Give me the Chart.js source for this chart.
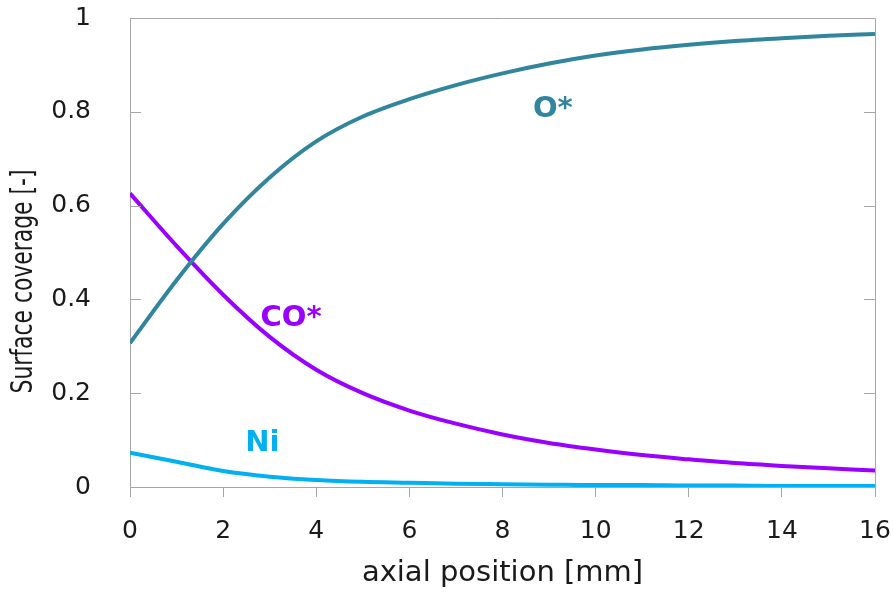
<!DOCTYPE html>
<html>
<head>
<meta charset="utf-8">
<script src="https://cdn.jsdelivr.net/npm/chart.js@4.4.1/dist/chart.umd.min.js"></script>
<style>
  html, body { margin: 0; padding: 0; background: #fff; }
  #wrap { width: 894px; height: 594px; }
</style>
</head>
<body>
<div id="wrap"><canvas id="chart" width="894" height="594"></canvas></div>
<script>
// axial positions [mm]
const positions = [0, 1, 2, 3, 4, 5, 6, 7, 8, 9, 10, 11, 12, 13, 14, 15, 16];
const oStar  = [0.307, 0.441, 0.561, 0.660, 0.737, 0.790, 0.827, 0.857, 0.882, 0.903, 0.920, 0.933, 0.943, 0.951, 0.957, 0.962, 0.966];
const coStar = [0.626, 0.514, 0.410, 0.320, 0.250, 0.200, 0.163, 0.135, 0.112, 0.094, 0.080, 0.068, 0.059, 0.051, 0.045, 0.040, 0.035];
const ni     = [0.073, 0.054, 0.034, 0.022, 0.015, 0.011, 0.009, 0.007, 0.006, 0.005, 0.004, 0.004, 0.003, 0.003, 0.002, 0.002, 0.002];

const xTicks = [0, 2, 4, 6, 8, 10, 12, 14, 16];
const yTicks = [0, 0.2, 0.4, 0.6, 0.8, 1];

// curve labels, placed in data coordinates
const labelNames = ['O*', 'CO*', 'Ni'];
const labelX = [9.08, 3.46, 2.84];
const labelY = [0.806, 0.360, 0.092];

const colors = ['#31859C', '#9900FF', '#00B0F0'];
const FONT = '"DejaVu Sans", sans-serif';
const AXIS = '#A6A6A6';
const TEXT = '#1a1a1a';
const Y_TITLE = 'Surface coverage [-]';

const toPoints = (ys) => positions.map((x, i) => ({ x, y: ys[i] }));

// frame, inward y ticks on both sides, curve labels, y title
const framePlugin = {
  id: 'frame',
  afterDatasetsDraw(chart) {
    const { ctx, chartArea: a, scales } = chart;
    ctx.save();
    ctx.strokeStyle = AXIS;
    ctx.lineWidth = 1;
    ctx.beginPath();
    ctx.moveTo(a.left, a.top + 0.5);
    ctx.lineTo(a.right + 0.5, a.top + 0.5);
    ctx.lineTo(a.right + 0.5, a.bottom);
    ctx.stroke();
    yTicks.forEach((v) => {
      const y = Math.round(scales.y.getPixelForValue(v)) + 0.5;
      ctx.beginPath();
      ctx.moveTo(a.left, y); ctx.lineTo(a.left + 11, y);
      ctx.moveTo(a.right, y); ctx.lineTo(a.right - 11, y);
      ctx.stroke();
    });
    ctx.font = 'bold 29px ' + FONT;
    ctx.textAlign = 'center';
    ctx.textBaseline = 'middle';
    labelNames.forEach((t, i) => {
      ctx.fillStyle = colors[i];
      ctx.fillText(t, scales.x.getPixelForValue(labelX[i]), scales.y.getPixelForValue(labelY[i]));
    });
    // y title, narrowed along its length like the original
    ctx.translate(24, (a.top + a.bottom) / 2 + 29);
    ctx.rotate(-Math.PI / 2);
    ctx.scale(0.73, 1);
    ctx.font = '30px ' + FONT;
    ctx.fillStyle = TEXT;
    ctx.fillText(Y_TITLE, 0, 0);
    ctx.restore();
  }
};

new Chart(document.getElementById('chart'), {
  type: 'line',
  data: {
    datasets: [
      { label: 'O*', data: toPoints(oStar), borderColor: colors[0] },
      { label: 'CO*', data: toPoints(coStar), borderColor: colors[1] },
      { label: 'Ni', data: toPoints(ni), borderColor: colors[2] },
    ].map((d) => ({ ...d, borderWidth: 4, pointRadius: 0, cubicInterpolationMode: 'monotone', fill: false })),
  },
  options: {
    responsive: false,
    animation: false,
    layout: { padding: { top: 18, right: 19, left: 0, bottom: 0 } },
    plugins: { legend: { display: false }, tooltip: { enabled: false } },
    scales: {
      x: {
        type: 'linear', min: 0, max: 16,
        afterBuildTicks: (s) => { s.ticks = xTicks.map((v) => ({ value: v })); },
        afterFit: (s) => { s.height = 107; s.paddingLeft = 0; s.paddingRight = 0; },
        grid: { drawOnChartArea: false, drawTicks: true, tickLength: 10, color: AXIS },
        border: { color: AXIS },
        ticks: { font: { family: FONT, size: 25 }, color: TEXT, padding: 19, maxRotation: 0 },
        title: { display: true, text: 'axial position [mm]', font: { family: FONT, size: 29, lineHeight: 1.4 }, color: TEXT, padding: 0 },
      },
      y: {
        min: 0, max: 1,
        afterBuildTicks: (s) => { s.ticks = yTicks.map((v) => ({ value: v })); },
        afterFit: (s) => { s.width = 130; s.paddingTop = 0; s.paddingBottom = 0; },
        grid: { display: false },
        border: { color: AXIS },
        ticks: { font: { family: FONT, size: 25 }, color: TEXT, padding: 31, callback: (v) => String(Math.round(v * 10) / 10) },
      },
    },
  },
  plugins: [framePlugin],
});
</script>
</body>
</html>
